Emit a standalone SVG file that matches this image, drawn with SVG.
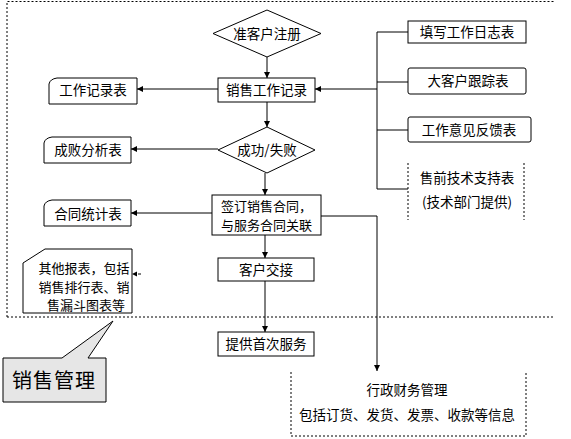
<svg xmlns="http://www.w3.org/2000/svg" width="571" height="439" viewBox="0 0 571 439">
<defs>
<style>
.n{fill:#fff;stroke:#000;stroke-width:1}
.d{fill:none;stroke:#000;stroke-width:1;stroke-dasharray:2,2}
.c{fill:none;stroke:#000;stroke-width:1}
.t{font-family:"Noto Sans CJK SC","Liberation Sans",sans-serif;font-size:13.5px;fill:#000;text-anchor:middle}
.m{font-size:13px}
.big{font-size:20px;letter-spacing:1px}
</style>
<marker id="ah" viewBox="0 0 10 10" refX="10" refY="5" markerWidth="6" markerHeight="6" orient="auto" markerUnits="userSpaceOnUse">
<path d="M0,0 L10,5 L0,10 Z" fill="#000"/>
</marker>
</defs>
<rect width="571" height="439" fill="#fff"/>
<g id="frame">
<path class="d" d="M7,317 L7,1.5 L555,1.5 M7,317 L555,317"/>
</g>
<g id="connectors">
<path class="c" d="M267,57 L267,78" marker-end="url(#ah)"/>
<path class="c" d="M218,89 L137,89" marker-end="url(#ah)"/>
<path class="c" d="M267,102 L267,127" marker-end="url(#ah)"/>
<path class="c" d="M218,149 L131,149" marker-end="url(#ah)"/>
<path class="c" d="M265,173 L265,195" marker-end="url(#ah)"/>
<path class="c" d="M212,213 L131,213" marker-end="url(#ah)"/>
<path class="c" d="M265,235 L265,258" marker-end="url(#ah)"/>
<path class="c" d="M265,281 L265,332" marker-end="url(#ah)"/>
<path class="c" d="M321,216 L377,216 L377,371" marker-end="url(#ah)"/>
<path class="c" d="M408,32 L377,32 L377,189 L408,189 M377,82 L408,82 M377,130 L408,130"/>
<path class="c" d="M377,89 L315,89" marker-end="url(#ah)"/>
<path class="c" d="M138,274 L141,274"/>
<polygon points="132,274 137,271.5 137,276.5" fill="#000"/>
</g>
<g id="n-register">
<polygon class="n" points="267,10 321,33.5 267,57 213,33.5"/>
<text class="t" x="267" y="38.5">准客户注册</text>
</g>
<g id="n-salesrecord">
<rect class="n" x="218" y="78" width="97" height="24"/>
<text class="t" x="266.5" y="94.5">销售工作记录</text>
</g>
<g id="n-workrecord">
<path class="n" d="M49,84 Q50,79 57,78 L137,78 L137,104 L49,104 Z"/>
<text class="t" x="93" y="95">工作记录表</text>
</g>
<g id="n-success">
<polygon class="n" points="267,127 315,150 267,173 218,150"/>
<text class="t" x="267" y="154.5">成功/失败</text>
</g>
<g id="n-analysis">
<path class="n" d="M44,143 Q45,138 52,137 L131,137 L131,163 L44,163 Z"/>
<text class="t" x="88" y="154.5">成败分析表</text>
</g>
<g id="n-contract">
<rect class="n" x="212" y="195" width="109" height="40"/>
<text class="t m" x="266.5" y="210.5">签订销售合同，</text>
<text class="t m" x="266.5" y="229.5">与服务合同关联</text>
</g>
<g id="n-contractstat">
<path class="n" d="M44,206 Q45,201 52,200 L131,200 L131,226 L44,226 Z"/>
<text class="t" x="88" y="218.5">合同统计表</text>
</g>
<g id="n-others">
<path class="n" d="M23,263 L45,249 L132,249 L132,313 L23,313 Z"/>
<text class="t m" x="84" y="272.5">其他报表，包括</text>
<text class="t m" x="84" y="291.5">销售排行表、销</text>
<text class="t m" x="86" y="310">售漏斗图表等</text>
</g>
<g id="n-handover">
<rect class="n" x="218" y="258" width="96" height="23"/>
<text class="t" x="266" y="274.5">客户交接</text>
</g>
<g id="n-firstservice">
<rect class="n" x="218" y="332" width="96" height="24"/>
<text class="t" x="266" y="348.5">提供首次服务</text>
</g>
<g id="n-worklog">
<rect class="n" x="408" y="21" width="118" height="22"/>
<text class="t" x="467" y="36.5">填写工作日志表</text>
</g>
<g id="n-bigclient">
<rect class="n" x="408" y="68" width="118" height="26" rx="2"/>
<text class="t" x="468" y="85.5">大客户跟踪表</text>
</g>
<g id="n-feedback">
<rect class="n" x="408" y="117" width="123" height="25" rx="2"/>
<text class="t" x="469" y="134.5">工作意见反馈表</text>
</g>
<g id="n-presales">
<path class="d" d="M408,163 L408,220 M524,163 L524,220"/>
<text class="t" x="467" y="182.5">售前技术支持表</text>
<text class="t" x="467" y="206.5">(技术部门提供)</text>
</g>
<g id="n-finance">
<path class="d" d="M291,372 L291,436 L526,436 L526,372"/>
<text class="t" x="407" y="394.5">行政财务管理</text>
<text class="t" x="407" y="419.5">包括订货、发货、发票、收款等信息</text>
</g>
<g id="callout">
<path d="M3,358 L62,358 L113,321 L88,358 L106,358 L106,402 L3,402 Z" fill="#e6e6e6" stroke="#000" stroke-width="1"/>
<text class="t big" x="54" y="388">销售管理</text>
</g>
</svg>
